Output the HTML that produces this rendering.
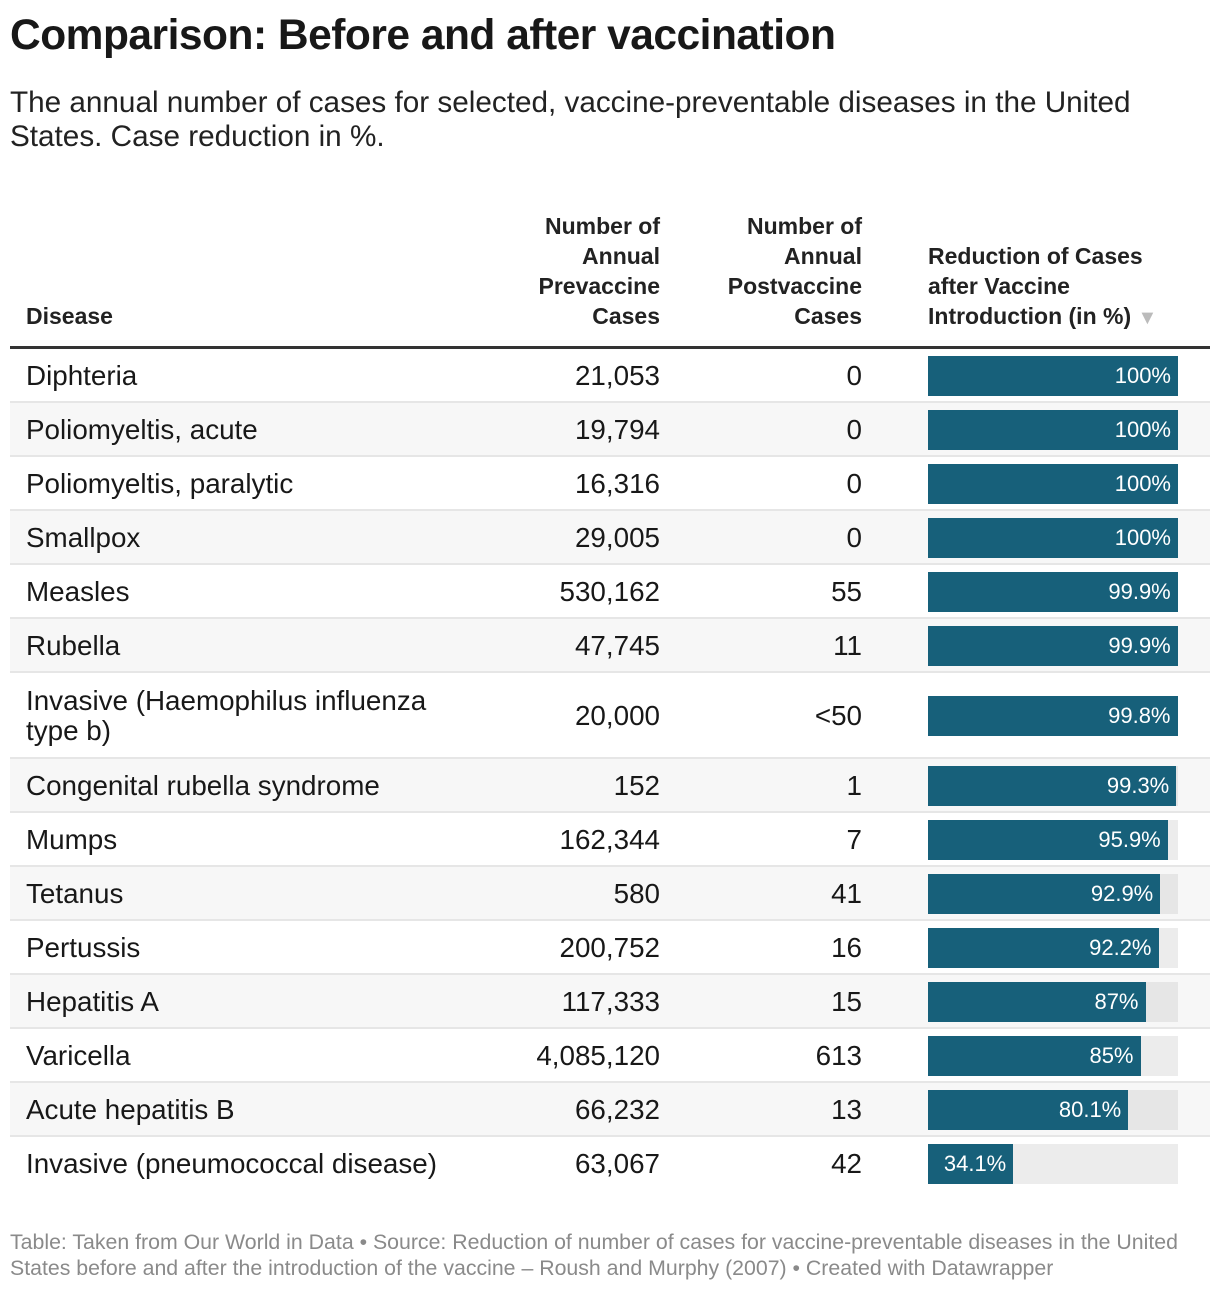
<!DOCTYPE html>
<html><head><meta charset="utf-8"><style>
body{margin:0;width:1220px;height:1292px;background:#fff;font-family:"Liberation Sans",Roboto,sans-serif;color:#181818;position:relative;overflow:hidden}
.a{position:absolute}
h1{position:absolute;left:10px;top:12px;margin:0;font-size:42.5px;font-weight:bold;letter-spacing:-0.5px}
.sub{left:10px;top:86px;font-size:29.7px;line-height:34px;color:#222;width:1200px}
.hd{font-weight:bold;font-size:23px;line-height:30px;color:#222}
.cell{font-size:27.8px;line-height:30px}
.foot{left:10px;top:1229px;font-size:21.3px;line-height:26px;color:#8a8a8a;width:1210px}
</style></head><body>
<h1>Comparison: Before and after vaccination</h1>
<div class="a sub">The annual number of cases for selected, vaccine-preventable diseases in the United States. Case reduction in %.</div>
<div class="a hd" style="left:26px;top:301px">Disease</div>
<div class="a hd" style="right:560px;top:211px;text-align:right">Number of<br>Annual<br>Prevaccine<br>Cases</div>
<div class="a hd" style="right:358px;top:211px;text-align:right">Number of<br>Annual<br>Postvaccine<br>Cases</div>
<div class="a hd" style="left:928px;top:241px">Reduction of Cases<br>after Vaccine<br>Introduction (in %) <span style="color:#bbb;font-size:20px">▼</span></div>
<div class="a" style="left:10px;top:346px;width:1200px;height:3px;background:#333"></div>
<div id="rows"></div>
<div class="a foot">Table: Taken from Our World in Data • Source: Reduction of number of cases for vaccine-preventable diseases in the United States before and after the introduction of the vaccine – Roush and Murphy (2007) • Created with Datawrapper</div>
<script>
const diseases=["Diphteria","Poliomyeltis, acute","Poliomyeltis, paralytic","Smallpox","Measles","Rubella","Invasive (Haemophilus influenza<br>type b)","Congenital rubella syndrome","Mumps","Tetanus","Pertussis","Hepatitis A","Varicella","Acute hepatitis B","Invasive (pneumococcal disease)"];
const prevaccine=["21,053","19,794","16,316","29,005","530,162","47,745","20,000","152","162,344","580","200,752","117,333","4,085,120","66,232","63,067"];
const postvaccine=["0","0","0","0","55","11","<50","1","7","41","16","15","613","13","42"];
const reduction=[100,100,100,100,99.9,99.9,99.8,99.3,95.9,92.9,92.2,87,85,80.1,34.1];
const labels=["100%","100%","100%","100%","99.9%","99.9%","99.8%","99.3%","95.9%","92.9%","92.2%","87%","85%","80.1%","34.1%"];
const c=document.getElementById('rows');
const BX=928,BW=250;
const xs=v=>v/100*BW;
let y=349;
diseases.forEach((d,i)=>{
  const h=(i===6)?86:54;
  const last=i===diseases.length-1;
  const r=document.createElement('div');
  r.className='a';
  
  
  r.style.cssText=`left:10px;top:${y}px;width:1200px;height:${h}px;background:${i%2?'#f7f7f7':'#fff'};border-bottom:${last?'none':'2px solid #e6e6e6'};box-sizing:border-box`;
  c.appendChild(r);
  const mid=y+h/2;
  const t1=document.createElement('div');t1.className='a cell';
  
  
  t1.style.cssText=`left:26px;top:${mid-(i===6?30:15)}px`;t1.innerHTML=d;c.appendChild(t1);
  const t2=document.createElement('div');t2.className='a cell';
  
  
  t2.style.cssText=`right:560px;top:${mid-15}px`;t2.textContent=prevaccine[i];c.appendChild(t2);
  const t3=document.createElement('div');t3.className='a cell';
  
  
  t3.style.cssText=`right:358px;top:${mid-15}px`;t3.textContent=postvaccine[i];c.appendChild(t3);
  const bg=document.createElement('div');bg.className='a';
  
  
  bg.style.cssText=`left:${BX}px;top:${mid-20}px;width:${BW}px;height:40px;background:${i%2?'#e6e6e6':'#ececec'}`;c.appendChild(bg);
  const b=document.createElement('div');b.className='a';
  
  
  b.style.cssText=`left:${BX}px;top:${mid-20}px;width:${xs(reduction[i])}px;height:40px;background:#17607a;color:#fff;font-size:22px;line-height:40px;text-align:right;box-sizing:border-box;padding-right:7px;white-space:nowrap`;
  b.textContent=labels[i];c.appendChild(b);
  y+=h;
});
</script>
</body></html>
